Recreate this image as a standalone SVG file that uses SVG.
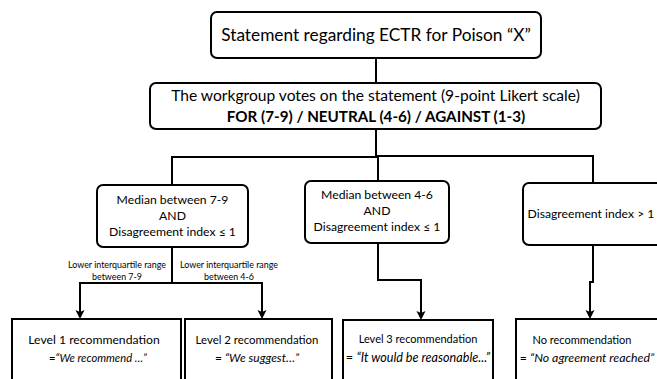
<svg xmlns="http://www.w3.org/2000/svg" width="657" height="379" viewBox="0 0 657 379">
<style>
  .box{fill:#fff;stroke:#000;stroke-width:2}
  .t{font-family:Lato,"Liberation Sans",sans-serif;fill:#000;text-anchor:middle}
  .big{font-size:17.3px}
  .mid{font-size:15.6px}
  .b{font-weight:bold;font-size:15.2px}
  .md{font-size:12.2px}
  .xs{font-size:8.9px}
  .i{font-style:italic}
  .c{fill:none;stroke:#000;stroke-width:2}
  .a{marker-end:url(#arr)}
</style>
<defs>
  <marker id="arr" markerUnits="userSpaceOnUse" markerWidth="10" markerHeight="10" refX="2" refY="4.5" orient="auto">
    <path d="M0,0 L9,4.5 L0,9 L2,4.5 z" fill="#000"/>
  </marker>
</defs>
<rect width="657" height="379" fill="#fff"/>

<g id="connectors">
  <path class="c" d="M376,58 V83"/>
  <path class="c" d="M376,129 V157"/>
  <path class="c" d="M171,157 H377"/>
  <path class="c" d="M377,156 H594"/>
  <path class="c" d="M172,157 V185"/>
  <path class="c" d="M378,156 V181"/>
  <path class="c" d="M593,156 V183"/>
  <path class="c" d="M172,247 V283"/>
  <path class="c" d="M79,283 H263"/>
  <path class="c a" d="M80,283 V312"/>
  <path class="c a" d="M262,283 V312"/>
  <path class="c" d="M378,243 V280 H421"/>
  <path class="c a" d="M421,279 V313"/>
  <path class="c" d="M593,245 V282 H590"/>
  <path class="c a" d="M590,281 V312"/>
</g>

<g id="statement">
  <rect class="box" x="211" y="12" width="330" height="46" rx="6"/>
  <text class="t big" x="376" y="41">Statement regarding ECTR for Poison “X”</text>
</g>

<g id="vote">
  <rect class="box" x="150" y="83" width="451" height="46" rx="6"/>
  <text class="t mid" x="375.5" y="101">The workgroup votes on the statement (9-point Likert scale)</text>
  <text class="t b" x="376" y="122">FOR (7-9) / NEUTRAL (4-6) / AGAINST (1-3)</text>
</g>

<g id="median79">
  <rect class="box" x="97" y="185" width="151" height="62" rx="6"/>
  <text class="t md" x="172.5" y="204">Median between 7-9</text>
  <text class="t md" x="172.5" y="220">AND</text>
  <text class="t md" x="172.5" y="236">Disagreement index ≤ 1</text>
</g>

<g id="median46">
  <rect class="box" x="305" y="181" width="144" height="62" rx="6"/>
  <text class="t md" x="377" y="199">Median between 4-6</text>
  <text class="t md" x="377" y="215">AND</text>
  <text class="t md" x="377" y="231">Disagreement index ≤ 1</text>
</g>

<g id="disagree">
  <rect class="box" x="523" y="183" width="150" height="62" rx="6"/>
  <text class="t md" x="591" y="218">Disagreement index &gt; 1</text>
</g>

<g id="labels">
  <text class="t xs" x="117" y="268">Lower interquartile range</text>
  <text class="t xs" x="117" y="280">between 7-9</text>
  <text class="t xs" x="229" y="268">Lower interquartile range</text>
  <text class="t xs" x="229" y="280">between 4-6</text>
</g>

<g id="level1">
  <rect class="box" x="12" y="319" width="169" height="70"/>
  <text class="t" style="font-size:12.2px" x="94" y="344">Level 1 recommendation</text>
  <text class="t" style="font-size:11.2px" x="98" y="362">=<tspan class="i">“We recommend …”</tspan></text>
</g>

<g id="level2">
  <rect class="box" x="185" y="319" width="147" height="70"/>
  <text class="t" style="font-size:11.4px" x="257" y="344">Level 2 recommendation</text>
  <text class="t" style="font-size:12px" x="257" y="362">= <tspan class="i">“We suggest…”</tspan></text>
</g>

<g id="level3">
  <rect class="box" x="343" y="320" width="150" height="70"/>
  <text class="t" style="font-size:11px" x="418" y="343">Level 3 recommendation</text>
  <text class="t" style="font-size:12.6px" x="418" y="362">= <tspan class="i">“It would be reasonable...”</tspan></text>
</g>

<g id="norec">
  <rect class="box" x="516" y="319" width="160" height="70"/>
  <text class="t" style="font-size:11px" x="582" y="344">No recommendation</text>
  <text class="t" style="font-size:12.3px" x="587" y="362">= <tspan class="i">“No agreement reached”</tspan></text>
</g>
</svg>
